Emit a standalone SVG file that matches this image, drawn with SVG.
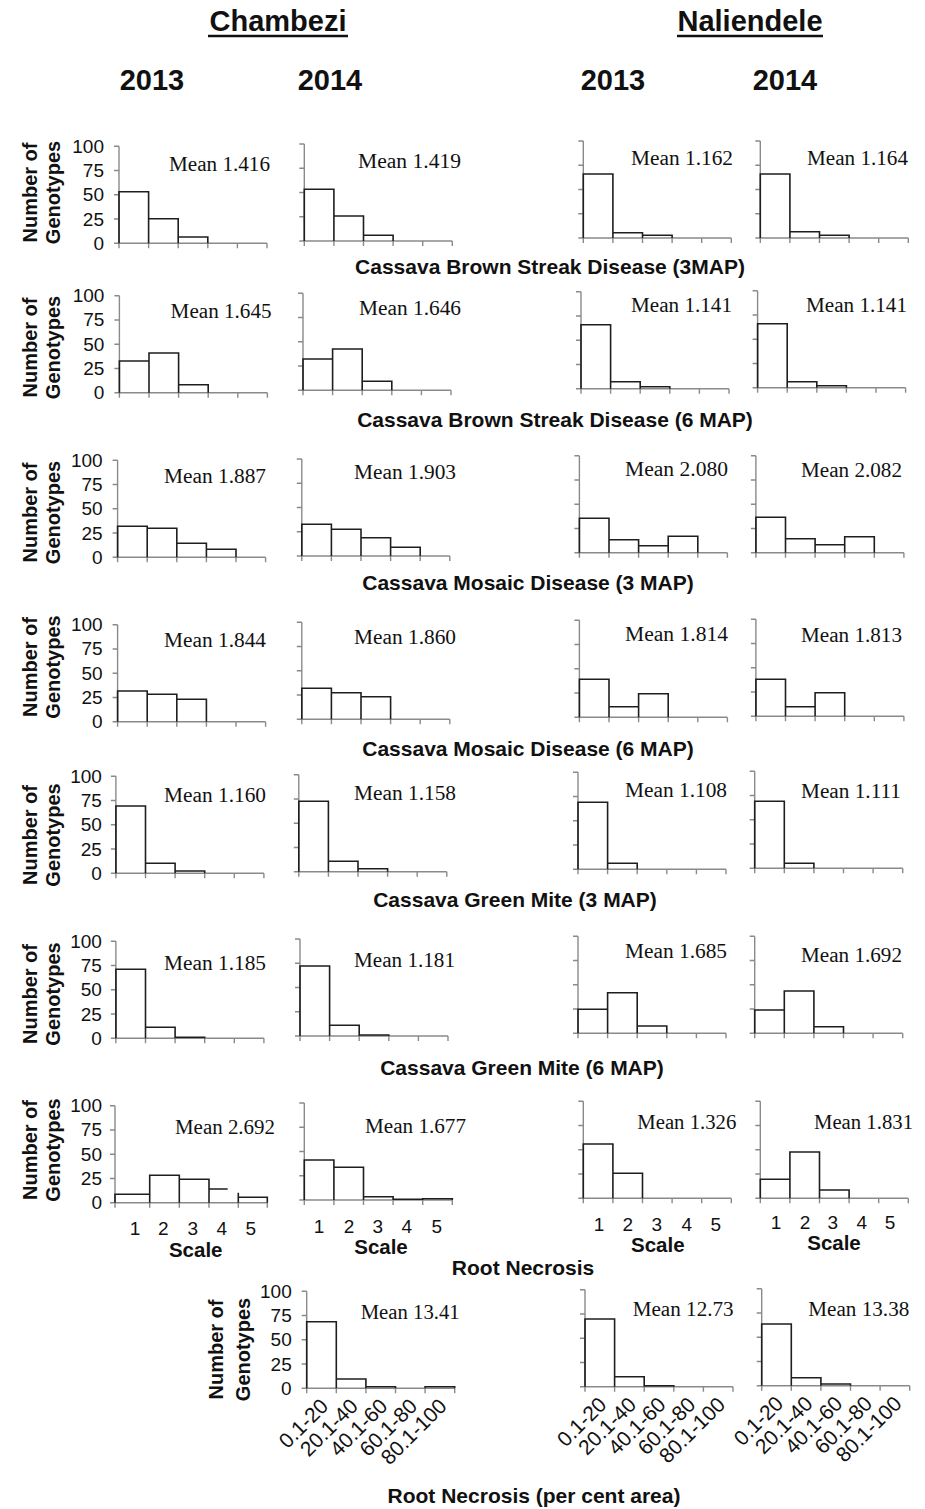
<svg xmlns="http://www.w3.org/2000/svg" xmlns:xlink="http://www.w3.org/1999/xlink" width="925" height="1509" viewBox="0 0 925 1509">
<style>
.ax{stroke:#8a8a8a;stroke-width:1.4;fill:none}
.bar{stroke:#1e1e1e;stroke-width:1.6;fill:none}
.mean{font-family:"Liberation Serif","Times New Roman",serif;font-size:20px;fill:#111}
.yt{font-family:"Liberation Sans",Arial,sans-serif;font-size:19px;text-anchor:end;fill:#111}
.yl{font-family:"Liberation Sans",Arial,sans-serif;font-size:20px;font-weight:bold;text-anchor:middle;fill:#111}
.ttl{font-family:"Liberation Sans",Arial,sans-serif;font-size:21px;font-weight:bold;text-anchor:middle;fill:#111}
.hdr{font-family:"Liberation Sans",Arial,sans-serif;font-size:29px;font-weight:bold;text-anchor:middle;fill:#111}
.xt{font-family:"Liberation Sans",Arial,sans-serif;font-size:19px;text-anchor:middle;fill:#111}
.sc{font-family:"Liberation Sans",Arial,sans-serif;font-size:20.5px;font-weight:bold;text-anchor:middle;fill:#111}
.rl{font-family:"Liberation Sans",Arial,sans-serif;font-size:21px;text-anchor:end;fill:#111}
.ul{stroke:#111;stroke-width:2.5}
</style>
<defs>
<path id="ax" stroke="#8a8a8a" stroke-width="1.4" fill="none" d="M0 0V-97M-5 0H148M-5 -24.25H0M-5 -48.5H0M-5 -72.75H0M-5 -97H0M0 0v5M29.6 0v5M59.2 0v5M88.8 0v5M118.4 0v5M148 0v5"/>
</defs>

<g id="headers">
<text class="hdr" x="278" y="31">Chambezi</text>
<line class="ul" x1="208" y1="36" x2="348" y2="36"/>
<text class="hdr" x="750" y="31">Naliendele</text>
<line class="ul" x1="677" y1="36" x2="823" y2="36"/>
<text class="hdr" x="152" y="90">2013</text>
<text class="hdr" x="330" y="90">2014</text>
<text class="hdr" x="613" y="90">2013</text>
<text class="hdr" x="785" y="90">2014</text>
</g>

<g id="ylabels">
<text class="yl" transform="translate(37,192.5) rotate(-90)">Number of</text>
<text class="yl" transform="translate(60,192.5) rotate(-90)">Genotypes</text>
<text class="yl" transform="translate(37,347.5) rotate(-90)">Number of</text>
<text class="yl" transform="translate(60,347.5) rotate(-90)">Genotypes</text>
<text class="yl" transform="translate(37,512.5) rotate(-90)">Number of</text>
<text class="yl" transform="translate(60,512.5) rotate(-90)">Genotypes</text>
<text class="yl" transform="translate(37,667) rotate(-90)">Number of</text>
<text class="yl" transform="translate(60,667) rotate(-90)">Genotypes</text>
<text class="yl" transform="translate(37,835) rotate(-90)">Number of</text>
<text class="yl" transform="translate(60,835) rotate(-90)">Genotypes</text>
<text class="yl" transform="translate(37,994) rotate(-90)">Number of</text>
<text class="yl" transform="translate(60,994) rotate(-90)">Genotypes</text>
<text class="yl" transform="translate(37,1150) rotate(-90)">Number of</text>
<text class="yl" transform="translate(60,1150) rotate(-90)">Genotypes</text>
<text class="yl" transform="translate(223,1349.5) rotate(-90)">Number of</text>
<text class="yl" transform="translate(250,1349.5) rotate(-90)">Genotypes</text>
</g>

<g id="titles">
<text class="ttl" x="550" y="274">Cassava Brown Streak Disease (3MAP)</text>
<text class="ttl" x="555" y="427">Cassava Brown Streak Disease (6 MAP)</text>
<text class="ttl" x="528" y="590">Cassava Mosaic Disease (3 MAP)</text>
<text class="ttl" x="528" y="756">Cassava Mosaic Disease (6 MAP)</text>
<text class="ttl" x="515" y="907">Cassava Green Mite (3 MAP)</text>
<text class="ttl" x="522" y="1075">Cassava Green Mite (6 MAP)</text>
<text class="ttl" x="523" y="1275">Root Necrosis</text>
<text class="ttl" x="534" y="1503">Root Necrosis (per cent area)</text>
</g>

<!-- Row 1 -->
<g id="r1c13">
<g transform="translate(119,243.3)"><use xlink:href="#ax" href="#ax"/>
<path class="bar" d="M0 0V-51.6H29.6V0M29.6 0V-24.6H59.2V0M59.2 0V-6.3H88.8V0"/>
<text class="yt" x="-15" y="6.5">0</text>
<text class="yt" x="-15" y="-17.75">25</text>
<text class="yt" x="-15" y="-42">50</text>
<text class="yt" x="-15" y="-66.25">75</text>
<text class="yt" x="-15" y="-90.5">100</text>
</g>
<text class="mean" x="169" y="171" textLength="101" lengthAdjust="spacingAndGlyphs">Mean 1.416</text>
</g>
<g id="r1c14">
<g transform="translate(304.3,241)"><use xlink:href="#ax" href="#ax"/>
<path class="bar" d="M0 0V-51.7H29.6V0M29.6 0V-25H59.2V0M59.2 0V-5.7H88.8V0"/></g>
<text class="mean" x="358" y="168" textLength="103" lengthAdjust="spacingAndGlyphs">Mean 1.419</text>
</g>
<g id="r1n13">
<g transform="translate(583.3,238)"><use xlink:href="#ax" href="#ax"/>
<path class="bar" d="M0 0V-64H29.6V0M29.6 0V-5.3H59.2V0M59.2 0V-2.7H88.8V0"/></g>
<text class="mean" x="631" y="165" textLength="102" lengthAdjust="spacingAndGlyphs">Mean 1.162</text>
</g>
<g id="r1n14">
<g transform="translate(760.3,238)"><use xlink:href="#ax" href="#ax"/>
<path class="bar" d="M0 0V-64H29.6V0M29.6 0V-6.3H59.2V0M59.2 0V-2.7H88.8V0"/></g>
<text class="mean" x="807" y="165" textLength="101" lengthAdjust="spacingAndGlyphs">Mean 1.164</text>
</g>

<!-- Row 2 -->
<g id="r2c13">
<g transform="translate(119.4,392.7)"><use xlink:href="#ax" href="#ax"/>
<path class="bar" d="M0 0V-31.7H29.6V0M29.6 0V-39.7H59.2V0M59.2 0V-8H88.8V0"/>
<text class="yt" x="-15" y="6.5">0</text>
<text class="yt" x="-15" y="-17.75">25</text>
<text class="yt" x="-15" y="-42">50</text>
<text class="yt" x="-15" y="-66.25">75</text>
<text class="yt" x="-15" y="-90.5">100</text>
</g>
<text class="mean" x="170.6" y="318" textLength="101" lengthAdjust="spacingAndGlyphs">Mean 1.645</text>
</g>
<g id="r2c14">
<g transform="translate(303,390.3)"><use xlink:href="#ax" href="#ax"/>
<path class="bar" d="M0 0V-31.3H29.6V0M29.6 0V-41.3H59.2V0M59.2 0V-9H88.8V0"/></g>
<text class="mean" x="359" y="315" textLength="102" lengthAdjust="spacingAndGlyphs">Mean 1.646</text>
</g>
<g id="r2n13">
<g transform="translate(581,388.7)"><use xlink:href="#ax" href="#ax"/>
<path class="bar" d="M0 0V-64H29.6V0M29.6 0V-7H59.2V0M59.2 0V-2H88.8V0"/></g>
<text class="mean" x="631" y="312" textLength="101" lengthAdjust="spacingAndGlyphs">Mean 1.141</text>
</g>
<g id="r2n14">
<g transform="translate(757.6,387.7)"><use xlink:href="#ax" href="#ax"/>
<path class="bar" d="M0 0V-64H29.6V0M29.6 0V-6H59.2V0M59.2 0V-2H88.8V0"/></g>
<text class="mean" x="806" y="312" textLength="101" lengthAdjust="spacingAndGlyphs">Mean 1.141</text>
</g>

<!-- Row 3 -->
<g id="r3c13">
<g transform="translate(117.6,557.3)"><use xlink:href="#ax" href="#ax"/>
<path class="bar" d="M0 0V-31H29.6V0M29.6 0V-29H59.2V0M59.2 0V-14H88.8V0M88.8 0V-8H118.4V0"/>
<text class="yt" x="-15" y="6.5">0</text>
<text class="yt" x="-15" y="-17.75">25</text>
<text class="yt" x="-15" y="-42">50</text>
<text class="yt" x="-15" y="-66.25">75</text>
<text class="yt" x="-15" y="-90.5">100</text>
</g>
<text class="mean" x="164" y="483" textLength="102" lengthAdjust="spacingAndGlyphs">Mean 1.887</text>
</g>
<g id="r3c14">
<g transform="translate(301.8,556)"><use xlink:href="#ax" href="#ax"/>
<path class="bar" d="M0 0V-31.7H29.6V0M29.6 0V-26.7H59.2V0M59.2 0V-18.3H88.8V0M88.8 0V-8.7H118.4V0"/></g>
<text class="mean" x="354" y="479" textLength="102" lengthAdjust="spacingAndGlyphs">Mean 1.903</text>
</g>
<g id="r3n13">
<g transform="translate(579.4,552.7)"><use xlink:href="#ax" href="#ax"/>
<path class="bar" d="M0 0V-34.4H29.6V0M29.6 0V-13H59.2V0M59.2 0V-7H88.8V0M88.8 0V-16.4H118.4V0"/></g>
<text class="mean" x="625" y="476" textLength="103" lengthAdjust="spacingAndGlyphs">Mean 2.080</text>
</g>
<g id="r3n14">
<g transform="translate(755.9,552.7)"><use xlink:href="#ax" href="#ax"/>
<path class="bar" d="M0 0V-35.4H29.6V0M29.6 0V-14H59.2V0M59.2 0V-8H88.8V0M88.8 0V-16H118.4V0"/></g>
<text class="mean" x="801" y="476.5" textLength="101" lengthAdjust="spacingAndGlyphs">Mean 2.082</text>
</g>

<!-- Row 4 -->
<g id="r4c13">
<g transform="translate(117.6,721.7)"><use xlink:href="#ax" href="#ax"/>
<path class="bar" d="M0 0V-30.7H29.6V0M29.6 0V-27.4H59.2V0M59.2 0V-22.4H88.8V0"/>
<text class="yt" x="-15" y="6.5">0</text>
<text class="yt" x="-15" y="-17.75">25</text>
<text class="yt" x="-15" y="-42">50</text>
<text class="yt" x="-15" y="-66.25">75</text>
<text class="yt" x="-15" y="-90.5">100</text>
</g>
<text class="mean" x="164" y="646.7" textLength="102" lengthAdjust="spacingAndGlyphs">Mean 1.844</text>
</g>
<g id="r4c14">
<g transform="translate(301.8,719.3)"><use xlink:href="#ax" href="#ax"/>
<path class="bar" d="M0 0V-31H29.6V0M29.6 0V-26.6H59.2V0M59.2 0V-22.6H88.8V0"/></g>
<text class="mean" x="354" y="644.3" textLength="102" lengthAdjust="spacingAndGlyphs">Mean 1.860</text>
</g>
<g id="r4n13">
<g transform="translate(579.4,717.3)"><use xlink:href="#ax" href="#ax"/>
<path class="bar" d="M0 0V-38H29.6V0M29.6 0V-10.6H59.2V0M59.2 0V-23.6H88.8V0"/></g>
<text class="mean" x="625" y="640.7" textLength="103" lengthAdjust="spacingAndGlyphs">Mean 1.814</text>
</g>
<g id="r4n14">
<g transform="translate(755.9,716.3)"><use xlink:href="#ax" href="#ax"/>
<path class="bar" d="M0 0V-37H29.6V0M29.6 0V-9.6H59.2V0M59.2 0V-23.6H88.8V0"/></g>
<text class="mean" x="801" y="641.7" textLength="101" lengthAdjust="spacingAndGlyphs">Mean 1.813</text>
</g>

<!-- Row 5 -->
<g id="r5c13">
<g transform="translate(115.9,873.3)"><use xlink:href="#ax" href="#ax"/>
<path class="bar" d="M0 0V-67.3H29.6V0M29.6 0V-10H59.2V0M59.2 0V-2.3H88.8V0"/>
<text class="yt" x="-14" y="6.5">0</text>
<text class="yt" x="-14" y="-17.75">25</text>
<text class="yt" x="-14" y="-42">50</text>
<text class="yt" x="-14" y="-66.25">75</text>
<text class="yt" x="-14" y="-90.5">100</text>
</g>
<text class="mean" x="164" y="802.3" textLength="102" lengthAdjust="spacingAndGlyphs">Mean 1.160</text>
</g>
<g id="r5c14">
<g transform="translate(298.8,871.7)"><use xlink:href="#ax" href="#ax"/>
<path class="bar" d="M0 0V-70.4H29.6V0M29.6 0V-10.4H59.2V0M59.2 0V-3H88.8V0"/></g>
<text class="mean" x="354" y="800" textLength="102" lengthAdjust="spacingAndGlyphs">Mean 1.158</text>
</g>
<g id="r5n13">
<g transform="translate(578,869.3)"><use xlink:href="#ax" href="#ax"/>
<path class="bar" d="M0 0V-67H29.6V0M29.6 0V-6H59.2V0"/></g>
<text class="mean" x="625" y="796.7" textLength="102" lengthAdjust="spacingAndGlyphs">Mean 1.108</text>
</g>
<g id="r5n14">
<g transform="translate(754.7,868.3)"><use xlink:href="#ax" href="#ax"/>
<path class="bar" d="M0 0V-67H29.6V0M29.6 0V-5H59.2V0"/></g>
<text class="mean" x="801" y="797.7" textLength="100" lengthAdjust="spacingAndGlyphs">Mean 1.111</text>
</g>

<!-- Row 6 -->
<g id="r6c13">
<g transform="translate(115.9,1038.3)"><use xlink:href="#ax" href="#ax"/>
<path class="bar" d="M0 0V-69H29.6V0M29.6 0V-11H59.2V0M59.2 0V-1H88.8V0"/>
<text class="yt" x="-14" y="6.5">0</text>
<text class="yt" x="-14" y="-17.75">25</text>
<text class="yt" x="-14" y="-42">50</text>
<text class="yt" x="-14" y="-66.25">75</text>
<text class="yt" x="-14" y="-90.5">100</text>
</g>
<text class="mean" x="164" y="970" textLength="102" lengthAdjust="spacingAndGlyphs">Mean 1.185</text>
</g>
<g id="r6c14">
<g transform="translate(300,1036)"><use xlink:href="#ax" href="#ax"/>
<path class="bar" d="M0 0V-70H29.6V0M29.6 0V-10.7H59.2V0M59.2 0V-1H88.8V0"/></g>
<text class="mean" x="354" y="966.7" textLength="101" lengthAdjust="spacingAndGlyphs">Mean 1.181</text>
</g>
<g id="r6n13">
<g transform="translate(578,1033.3)"><use xlink:href="#ax" href="#ax"/>
<path class="bar" d="M0 0V-24H29.6V0M29.6 0V-40.6H59.2V0M59.2 0V-7.3H88.8V0"/></g>
<text class="mean" x="625" y="958" textLength="102" lengthAdjust="spacingAndGlyphs">Mean 1.685</text>
</g>
<g id="r6n14">
<g transform="translate(754.7,1033.3)"><use xlink:href="#ax" href="#ax"/>
<path class="bar" d="M0 0V-23.3H29.6V0M29.6 0V-42.3H59.2V0M59.2 0V-6.6H88.8V0"/></g>
<text class="mean" x="801" y="961.7" textLength="101" lengthAdjust="spacingAndGlyphs">Mean 1.692</text>
</g>

<!-- Row 7 -->
<g id="r7c13">
<path class="ax" d="M115 1202.7V1105.7M110 1202.7H267.3M110 1178.45H115M110 1154.2H115M110 1129.95H115M110 1105.7H115M115 1202.7v5M149.7 1202.7v5M179.3 1202.7v5M209 1202.7v5M238.3 1202.7v5M267.3 1202.7v5"/>
<path class="bar" d="M115 1202.7V1194.3H149.7V1202.7M149.7 1202.7V1175.3H179.3V1202.7M179.3 1202.7V1179.3H209V1202.7M209 1189H227.7M238.3 1202.7V1192.7M238.3 1197.3H267.3V1202.7"/>
<text class="yt" x="102" y="1209.2">0</text>
<text class="yt" x="102" y="1184.95">25</text>
<text class="yt" x="102" y="1160.7">50</text>
<text class="yt" x="102" y="1136.45">75</text>
<text class="yt" x="102" y="1112.2">100</text>
<text class="mean" x="175" y="1134.3" textLength="100" lengthAdjust="spacingAndGlyphs">Mean 2.692</text>
<text class="xt" x="135" y="1235">1</text>
<text class="xt" x="163.3" y="1235">2</text>
<text class="xt" x="192.7" y="1235">3</text>
<text class="xt" x="221.7" y="1235">4</text>
<text class="xt" x="250.7" y="1235">5</text>
<text class="sc" x="195.7" y="1256.7">Scale</text>
</g>
<g id="r7c14">
<g transform="translate(304.3,1200)"><use xlink:href="#ax" href="#ax"/>
<path class="bar" d="M0 0V-40H29.6V0M29.6 0V-32.7H59.2V0M59.2 0V-3.3H88.8V0M88.8 0V-0.7H118.4V0M118.4 0V-1.3H148V0"/></g>
<text class="mean" x="365" y="1132.7" textLength="101" lengthAdjust="spacingAndGlyphs">Mean 1.677</text>
<text class="xt" x="319" y="1233.3">1</text>
<text class="xt" x="349" y="1233.3">2</text>
<text class="xt" x="377.7" y="1233.3">3</text>
<text class="xt" x="406.7" y="1233.3">4</text>
<text class="xt" x="436.7" y="1233.3">5</text>
<text class="sc" x="381" y="1254.3">Scale</text>
</g>
<g id="r7n13">
<g transform="translate(583.3,1198.3)"><use xlink:href="#ax" href="#ax"/>
<path class="bar" d="M0 0V-54.3H29.6V0M29.6 0V-25H59.2V0"/></g>
<text class="mean" x="637.3" y="1129" textLength="99" lengthAdjust="spacingAndGlyphs">Mean 1.326</text>
<text class="xt" x="599" y="1230.7">1</text>
<text class="xt" x="627.7" y="1230.7">2</text>
<text class="xt" x="656.7" y="1230.7">3</text>
<text class="xt" x="686.7" y="1230.7">4</text>
<text class="xt" x="715.7" y="1230.7">5</text>
<text class="sc" x="657.8" y="1251.7">Scale</text>
</g>
<g id="r7n14">
<g transform="translate(760.3,1198.3)"><use xlink:href="#ax" href="#ax"/>
<path class="bar" d="M0 0V-19H29.6V0M29.6 0V-46.3H59.2V0M59.2 0V-8.3H88.8V0"/></g>
<text class="mean" x="814" y="1129" textLength="99" lengthAdjust="spacingAndGlyphs">Mean 1.831</text>
<text class="xt" x="776" y="1229.3">1</text>
<text class="xt" x="805" y="1229.3">2</text>
<text class="xt" x="832.7" y="1229.3">3</text>
<text class="xt" x="861.7" y="1229.3">4</text>
<text class="xt" x="890" y="1229.3">5</text>
<text class="sc" x="834" y="1250">Scale</text>
</g>

<!-- Row 8 -->
<g id="r8c">
<g transform="translate(306.7,1388.3)"><use xlink:href="#ax" href="#ax"/>
<path class="bar" d="M0 0V-66.6H29.6V0M29.6 0V-9.3H59.2V0M59.2 0V-1.6H88.8V0M118.4 0V-1.6H148V0"/>
<text class="yt" x="-15" y="6.5">0</text>
<text class="yt" x="-15" y="-17.75">25</text>
<text class="yt" x="-15" y="-42">50</text>
<text class="yt" x="-15" y="-66.25">75</text>
<text class="yt" x="-15" y="-90.5">100</text>
</g>
<text class="mean" x="360.7" y="1319.3" textLength="99" lengthAdjust="spacingAndGlyphs">Mean 13.41</text>
<text class="rl" transform="translate(329.5,1407.5) rotate(-45)">0.1-20</text>
<text class="rl" transform="translate(359.2,1407.5) rotate(-45)">20.1-40</text>
<text class="rl" transform="translate(388.8,1407.5) rotate(-45)">40.1-60</text>
<text class="rl" transform="translate(418.5,1407.5) rotate(-45)">60.1-80</text>
<text class="rl" transform="translate(448.1,1407.5) rotate(-45)">80.1-100</text>
</g>
<g id="r8n13">
<g transform="translate(585,1386.7)"><use xlink:href="#ax" href="#ax"/>
<path class="bar" d="M0 0V-67.7H29.6V0M29.6 0V-10H59.2V0M59.2 0V-1H88.8V0"/></g>
<text class="mean" x="632.7" y="1316" textLength="101" lengthAdjust="spacingAndGlyphs">Mean 12.73</text>
<text class="rl" transform="translate(607.8,1405.9) rotate(-45)">0.1-20</text>
<text class="rl" transform="translate(637.4,1405.9) rotate(-45)">20.1-40</text>
<text class="rl" transform="translate(667.1,1405.9) rotate(-45)">40.1-60</text>
<text class="rl" transform="translate(696.8,1405.9) rotate(-45)">60.1-80</text>
<text class="rl" transform="translate(726.4,1405.9) rotate(-45)">80.1-100</text>
</g>
<g id="r8n14">
<g transform="translate(761.7,1385.7)"><use xlink:href="#ax" href="#ax"/>
<path class="bar" d="M0 0V-61.7H29.6V0M29.6 0V-8H59.2V0M59.2 0V-1.7H88.8V0"/></g>
<text class="mean" x="808.3" y="1316" textLength="101" lengthAdjust="spacingAndGlyphs">Mean 13.38</text>
<text class="rl" transform="translate(784.5,1404.9) rotate(-45)">0.1-20</text>
<text class="rl" transform="translate(814.1,1404.9) rotate(-45)">20.1-40</text>
<text class="rl" transform="translate(843.8,1404.9) rotate(-45)">40.1-60</text>
<text class="rl" transform="translate(873.5,1404.9) rotate(-45)">60.1-80</text>
<text class="rl" transform="translate(903.1,1404.9) rotate(-45)">80.1-100</text>
</g>
</svg>
